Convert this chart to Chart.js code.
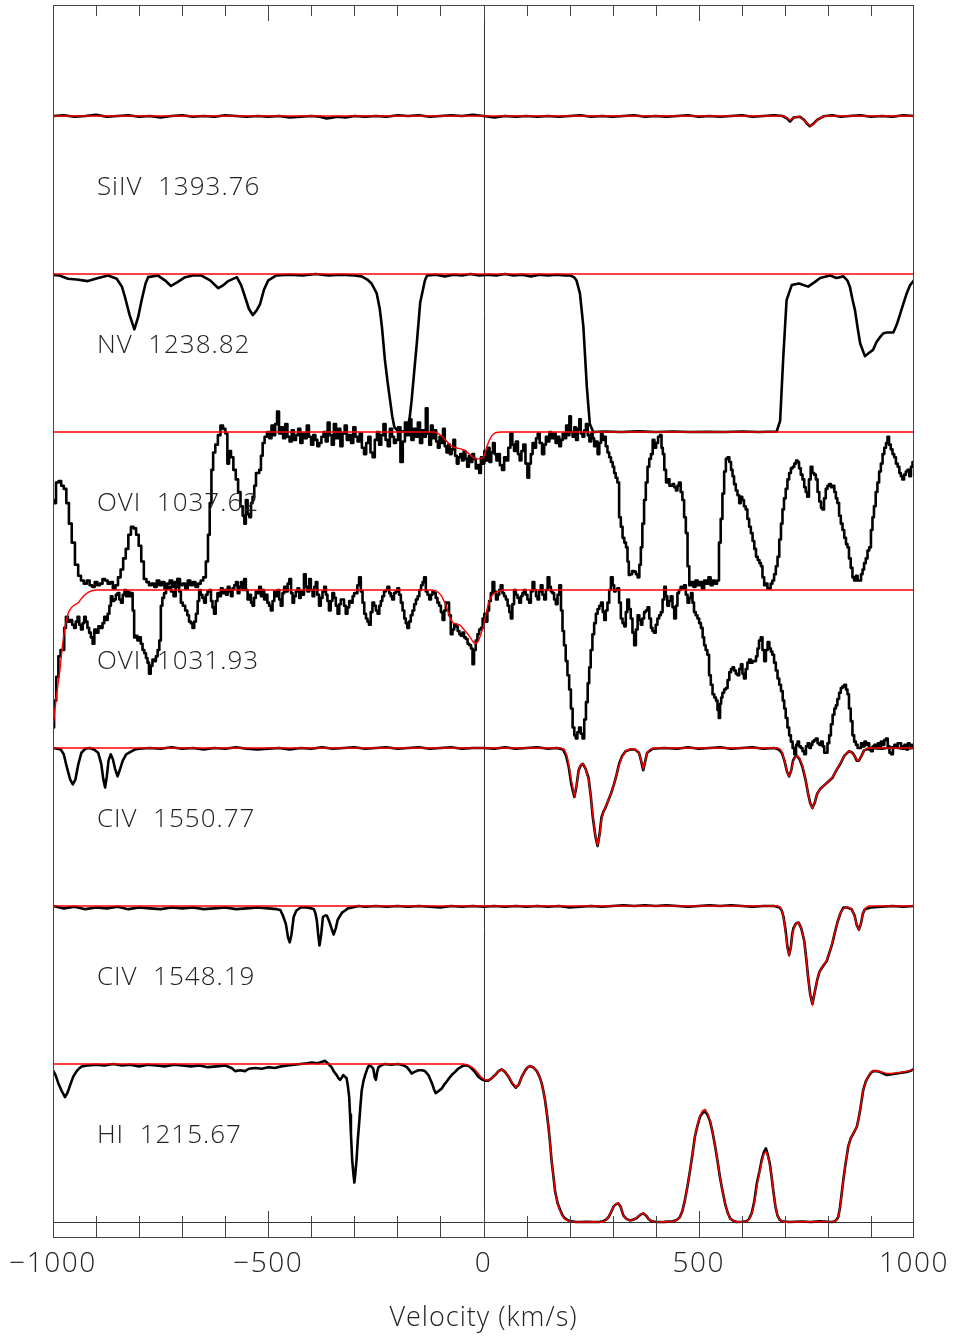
<!DOCTYPE html>
<html><head><meta charset="utf-8">
<script src="https://cdn.jsdelivr.net/npm/chart.js@4.4.1/dist/chart.umd.min.js"></script>
<style>html,body{margin:0;padding:0;background:#fff}canvas{display:block}</style>
</head><body>
<canvas id="c" width="953" height="1337"></canvas>
<script>
// ---- panel labels & stacking (bottom panel = offset 0) ----
const panelNames = ['HI  1215.67','CIV  1548.19','CIV  1550.77','OVI  1031.93','OVI  1037.62','NV  1238.82','SiIV  1393.76'];
const panelOffsets = [0,1,2,3,4,5,6];
const xTickValues = [-1000,-500,0,500,1000];
const xTickLabels = ['\u22121000','\u2212500','0','500','1000'];
const minorTickValues = [-900,-800,-700,-600,-400,-300,-200,-100,100,200,300,400,600,700,800,900];
const majorTickValues = [-500,0,500];

// ---- observed spectra: [velocity km/s, normalised flux] ----
const siivObs = [[-1000,1.0],[-975,1.005],[-950,0.995],[-925,1.0],[-900,1.008],[-875,0.995],[-850,1.0],[-825,1.005],[-800,0.995],[-775,1.0],[-750,0.99],[-725,1.0],[-700,1.005],[-675,0.995],[-650,1.0],[-625,0.995],[-600,1.005],[-575,1.0],[-550,0.995],[-525,1.0],[-500,0.995],[-475,1.0],[-450,0.99],[-425,0.995],[-400,1.0],[-380,0.995],[-365,0.985],[-355,0.988],[-340,0.995],[-320,0.99],[-300,1.0],[-275,0.995],[-250,1.0],[-225,0.995],[-200,1.005],[-175,1.0],[-150,1.005],[-125,0.995],[-100,1.0],[-75,1.005],[-50,1.0],[-25,1.008],[0,1.0],[25,0.99],[50,1.0],[75,0.995],[100,1.0],[125,0.995],[150,1.0],[175,0.995],[200,1.0],[225,1.005],[250,0.995],[275,1.0],[300,0.995],[325,1.0],[350,1.005],[375,0.995],[400,1.0],[425,0.995],[450,1.0],[475,1.005],[500,0.995],[525,1.0],[550,0.995],[575,1.0],[600,1.005],[625,0.995],[650,1.0],[675,1.005],[695,1.0],[705,0.985],[712,0.965],[720,0.99],[735,0.995],[745,0.975],[752,0.95],[758,0.935],[766,0.95],[775,0.975],[790,0.998],[810,1.005],[830,0.995],[850,1.0],[875,1.005],[900,0.995],[925,1.0],[950,0.995],[975,1.005],[1000,1.0]];
const siivFit = [[-1000,1],[698,1],[705,0.988],[712,0.972],[720,0.99],[732,0.997],[743,0.978],[751,0.955],[759,0.937],[767,0.95],[777,0.98],[790,0.998],[800,1],[1000,1]];

const nvObs = [[-1000,0.994],[-985,0.99],[-965,0.97],[-945,0.965],[-919,0.955],[-895,0.975],[-872,0.99],[-852,0.97],[-840,0.92],[-833,0.856],[-822,0.74],[-811,0.65],[-802,0.73],[-794,0.835],[-785,0.94],[-779,0.98],[-756,0.99],[-740,0.96],[-726,0.924],[-710,0.95],[-693,0.98],[-675,0.99],[-655,0.99],[-635,0.96],[-616,0.91],[-604,0.93],[-593,0.955],[-573,0.98],[-563,0.93],[-554,0.856],[-545,0.78],[-536,0.74],[-527,0.77],[-519,0.81],[-510,0.9],[-500,0.96],[-482,0.99],[-450,0.995],[-420,0.99],[-390,1.0],[-360,0.99],[-330,0.995],[-300,0.99],[-283,0.985],[-270,0.965],[-260,0.94],[-248,0.877],[-241,0.78],[-236,0.667],[-229,0.456],[-223,0.32],[-217,0.2],[-212,0.1],[-207,0.03],[-198,0.005],[-188,0.003],[-178,0.01],[-172,0.08],[-167,0.2],[-161,0.38],[-155,0.56],[-147,0.82],[-136,0.96],[-131,0.99],[-110,0.995],[-90,0.985],[-70,0.995],[-50,0.99],[-30,1.0],[-10,0.99],[10,0.995],[30,0.99],[50,1.0],[70,0.99],[90,0.995],[110,0.985],[130,0.995],[150,0.99],[170,0.995],[190,0.99],[201,0.99],[210,0.98],[216,0.96],[224,0.877],[232,0.667],[240,0.287],[247,0.05],[255,0.0],[280,0.003],[320,0.0],[360,0.004],[400,0.0],[440,0.003],[480,0.0],[520,0.002],[560,0.0],[600,0.003],[640,0.0],[681,0.003],[689,0.07],[696,0.456],[704,0.835],[716,0.93],[733,0.94],[754,0.92],[770,0.95],[782,0.975],[805,0.99],[820,0.975],[836,0.985],[845,0.96],[851,0.92],[857,0.84],[863,0.77],[869,0.66],[875,0.56],[886,0.48],[895,0.5],[905,0.52],[913,0.57],[921,0.6],[929,0.625],[937,0.63],[952,0.63],[960,0.68],[967,0.74],[975,0.81],[983,0.877],[991,0.93],[1000,0.96]];
const nvFit = [[-1000,1],[1000,1]];

const ovi1037Obs = [[-1000,0.57],[-996,0.55],[-990,0.68],[-984,0.69],[-978,0.66],[-972,0.64],[-966,0.55],[-960,0.42],[-953,0.3],[-945,0.16],[-938,0.09],[-932,0.06],[-925,0.04],[-918,0.06],[-912,0.03],[-906,0.02],[-900,0.05],[-894,0.03],[-888,0.04],[-882,0.07],[-876,0.06],[-870,0.04],[-864,0.05],[-858,0.01],[-852,0.03],[-846,0.08],[-840,0.13],[-834,0.2],[-828,0.26],[-822,0.35],[-816,0.4],[-810,0.39],[-804,0.35],[-798,0.28],[-792,0.18],[-786,0.07],[-780,0.05],[-774,0.03],[-768,0.04],[-762,0.02],[-756,0.06],[-750,0.03],[-744,0.05],[-738,0.01],[-732,0.04],[-726,0.06],[-720,0.02],[-714,0.05],[-708,0.07],[-702,0.03],[-696,0.04],[-690,0.01],[-684,0.06],[-678,0.03],[-672,0.05],[-666,0.02],[-660,0.04],[-654,0.06],[-648,0.08],[-642,0.18],[-638,0.35],[-634,0.55],[-630,0.76],[-626,0.87],[-620,0.92],[-614,0.98],[-608,1.04],[-602,1.02],[-597,0.99],[-593,0.8],[-589,0.88],[-584,0.84],[-578,0.76],[-573,0.7],[-567,0.62],[-562,0.53],[-557,0.47],[-554,0.42],[-550,0.57],[-546,0.48],[-542,0.46],[-538,0.55],[-535,0.59],[-530,0.66],[-527,0.74],[-523,0.74],[-519,0.76],[-515,0.85],[-511,0.93],[-506,0.97],[-500,1.0],[-495,0.96],[-490,1.04],[-486,0.98],[-482,1.05],[-477,1.13],[-473,0.99],[-468,1.03],[-463,0.96],[-458,1.05],[-453,0.97],[-448,0.94],[-443,1.01],[-438,0.95],[-433,0.98],[-428,1.02],[-423,0.93],[-418,0.99],[-413,0.96],[-408,1.04],[-403,0.97],[-398,0.92],[-393,0.98],[-388,0.95],[-384,0.91],[-379,0.93],[-374,0.97],[-369,1.0],[-364,0.94],[-360,1.06],[-355,0.98],[-350,0.92],[-345,1.05],[-340,0.96],[-335,1.02],[-330,0.91],[-325,0.99],[-320,1.04],[-315,0.95],[-310,0.98],[-305,0.93],[-300,1.03],[-295,0.97],[-290,0.94],[-285,0.99],[-280,0.9],[-275,0.86],[-270,0.93],[-265,0.97],[-260,0.87],[-255,0.84],[-250,0.95],[-245,1.0],[-240,0.92],[-235,0.98],[-230,1.05],[-225,0.95],[-220,0.91],[-215,1.02],[-210,0.97],[-206,0.93],[-201,0.95],[-196,1.03],[-190,0.81],[-185,0.94],[-180,1.06],[-175,0.98],[-170,1.08],[-165,0.95],[-160,1.02],[-155,0.97],[-150,1.06],[-145,0.93],[-140,1.01],[-136,0.97],[-132,1.15],[-128,0.99],[-124,0.92],[-120,1.04],[-116,0.96],[-112,1.01],[-108,0.94],[-104,0.9],[-100,0.97],[-96,0.93],[-92,1.02],[-88,0.91],[-84,0.87],[-80,0.92],[-76,0.86],[-72,0.89],[-68,0.95],[-64,0.85],[-60,0.8],[-56,0.84],[-52,0.86],[-48,0.82],[-44,0.88],[-40,0.83],[-36,0.78],[-32,0.85],[-28,0.81],[-24,0.86],[-20,0.83],[-16,0.77],[-12,0.79],[-8,0.74],[-4,0.84],[0,0.8],[4,0.88],[8,0.82],[12,0.9],[16,0.81],[20,0.87],[24,0.93],[28,0.86],[32,0.82],[36,0.86],[40,0.79],[46,0.76],[50,0.84],[55,0.82],[60,0.9],[65,0.99],[69,0.92],[73,0.88],[78,0.94],[82,0.86],[86,0.82],[90,0.88],[95,0.92],[100,0.8],[104,0.71],[108,0.8],[112,0.86],[116,0.93],[120,0.9],[124,0.96],[128,0.99],[133,0.93],[139,0.86],[143,0.92],[147,0.97],[151,0.94],[155,1.0],[160,0.96],[165,0.99],[170,0.93],[174,0.97],[178,0.91],[182,0.95],[186,0.99],[190,0.96],[194,1.04],[198,0.98],[201,1.1],[205,1.0],[209,0.97],[213,1.03],[217,0.95],[221,1.02],[224,1.08],[228,0.99],[232,0.97],[236,1.01],[240,1.05],[244,0.98],[248,0.94],[252,0.99],[255,0.96],[259,0.91],[263,0.94],[267,0.86],[271,0.93],[275,0.99],[278,0.95],[282,0.97],[286,0.91],[290,0.87],[294,0.84],[298,0.81],[302,0.78],[305,0.74],[309,0.71],[313,0.68],[317,0.46],[321,0.4],[325,0.33],[329,0.3],[333,0.27],[336,0.18],[339,0.095],[343,0.1],[347,0.12],[352,0.116],[356,0.1],[360,0.08],[364,0.16],[367,0.27],[371,0.42],[375,0.57],[379,0.68],[383,0.78],[387,0.83],[391,0.86],[395,0.95],[399,0.9],[403,0.93],[408,0.97],[412,0.98],[415,0.9],[418,0.86],[422,0.76],[426,0.68],[430,0.7],[434,0.66],[437,0.66],[441,0.67],[445,0.65],[449,0.63],[452,0.66],[456,0.68],[460,0.62],[464,0.57],[468,0.46],[472,0.36],[476,0.15],[480,0.03],[485,0.05],[490,0.02],[495,0.06],[500,0.03],[505,0.05],[510,0.01],[515,0.06],[520,0.04],[525,0.08],[530,0.03],[535,0.06],[540,0.04],[545,0.06],[549,0.3],[553,0.45],[557,0.61],[561,0.75],[565,0.83],[569,0.84],[573,0.81],[577,0.76],[580,0.72],[584,0.67],[588,0.63],[592,0.6],[596,0.55],[599,0.59],[603,0.57],[607,0.53],[611,0.51],[615,0.45],[619,0.4],[623,0.36],[627,0.31],[631,0.26],[635,0.21],[639,0.19],[643,0.17],[646,0.15],[650,0.08],[654,0.03],[658,0.04],[661,0.01],[665,0.01],[669,0.04],[673,0.06],[677,0.1],[681,0.15],[685,0.21],[689,0.32],[693,0.42],[696,0.51],[700,0.58],[704,0.64],[708,0.7],[712,0.74],[716,0.77],[720,0.78],[724,0.8],[728,0.82],[731,0.81],[735,0.77],[739,0.73],[743,0.7],[747,0.65],[750,0.62],[754,0.59],[758,0.7],[762,0.78],[766,0.74],[770,0.73],[774,0.7],[778,0.62],[782,0.56],[786,0.52],[789,0.51],[793,0.58],[797,0.64],[801,0.66],[805,0.67],[809,0.65],[813,0.66],[817,0.62],[820,0.58],[824,0.55],[828,0.47],[832,0.42],[836,0.38],[840,0.33],[844,0.29],[847,0.27],[851,0.2],[855,0.14],[859,0.08],[863,0.06],[867,0.09],[871,0.06],[875,0.06],[879,0.1],[882,0.13],[886,0.17],[890,0.2],[894,0.25],[898,0.27],[902,0.38],[905,0.46],[909,0.53],[913,0.62],[917,0.68],[921,0.75],[925,0.8],[929,0.86],[933,0.9],[937,0.93],[940,0.97],[944,0.92],[948,0.89],[952,0.86],[956,0.84],[960,0.8],[964,0.78],[968,0.74],[971,0.72],[975,0.7],[979,0.73],[983,0.75],[987,0.76],[991,0.72],[995,0.78],[998,0.81],[1000,0.8]];
const ovi1037Fit = [[-1000,1],[-115,1],[-105,0.99],[-95,0.97],[-85,0.94],[-75,0.91],[-65,0.9],[-55,0.895],[-45,0.885],[-35,0.865],[-25,0.84],[-18,0.83],[-10,0.83],[-4,0.835],[0,0.84],[4,0.87],[8,0.91],[14,0.95],[20,0.98],[28,0.995],[40,1],[1000,1]];

const ovi1031Obs = [[-1000,0.13],[-995,0.3],[-990,0.45],[-985,0.58],[-980,0.62],[-976,0.62],[-972,0.76],[-968,0.83],[-963,0.8],[-958,0.81],[-953,0.78],[-949,0.76],[-945,0.8],[-941,0.83],[-937,0.78],[-933,0.75],[-929,0.79],[-926,0.83],[-922,0.8],[-918,0.76],[-914,0.73],[-910,0.7],[-906,0.66],[-902,0.75],[-897,0.73],[-892,0.77],[-887,0.76],[-883,0.79],[-879,0.83],[-875,0.81],[-871,0.85],[-867,0.9],[-864,0.96],[-860,0.93],[-856,0.94],[-852,0.97],[-848,0.98],[-844,0.94],[-840,0.92],[-836,0.97],[-832,1.0],[-829,0.96],[-825,0.99],[-821,0.96],[-817,0.98],[-813,0.87],[-810,0.7],[-806,0.71],[-802,0.68],[-798,0.7],[-794,0.66],[-790,0.62],[-786,0.6],[-782,0.57],[-779,0.54],[-775,0.47],[-771,0.52],[-767,0.56],[-763,0.55],[-759,0.58],[-755,0.62],[-751,0.68],[-748,0.9],[-744,0.95],[-740,0.98],[-735,1.01],[-729,1.02],[-723,0.99],[-717,0.96],[-713,1.02],[-709,1.07],[-705,0.99],[-701,0.92],[-696,0.9],[-690,0.87],[-686,0.84],[-682,0.8],[-678,0.79],[-674,0.76],[-670,0.8],[-666,0.85],[-662,0.93],[-659,1.0],[-655,0.97],[-651,0.95],[-647,0.92],[-643,0.97],[-639,0.99],[-635,1.0],[-631,0.93],[-628,0.89],[-624,0.85],[-620,0.93],[-616,0.98],[-612,0.96],[-608,1.01],[-604,0.98],[-600,1.0],[-596,0.97],[-592,1.02],[-588,0.99],[-585,0.96],[-581,1.01],[-577,1.03],[-573,1.05],[-569,0.98],[-565,1.02],[-562,1.05],[-558,1.0],[-554,1.07],[-550,1.0],[-546,0.94],[-542,0.97],[-538,0.92],[-535,0.9],[-531,0.95],[-527,0.99],[-523,0.98],[-519,1.02],[-515,0.96],[-511,1.0],[-508,0.94],[-504,0.97],[-500,0.92],[-496,0.9],[-492,0.87],[-488,0.93],[-484,0.99],[-480,0.96],[-476,1.0],[-473,0.94],[-469,0.9],[-465,0.98],[-461,1.02],[-457,0.99],[-453,1.04],[-449,1.07],[-445,0.98],[-442,0.92],[-438,0.96],[-434,0.99],[-430,1.01],[-426,0.95],[-423,0.99],[-419,0.97],[-415,1.1],[-411,1.02],[-407,0.99],[-403,1.07],[-399,1.0],[-395,0.96],[-391,1.02],[-388,1.05],[-384,0.97],[-380,0.9],[-376,0.95],[-372,0.99],[-368,1.02],[-364,0.97],[-361,0.93],[-357,0.87],[-353,0.93],[-349,0.98],[-345,0.95],[-341,0.9],[-337,0.85],[-333,0.91],[-330,0.94],[-326,0.94],[-322,0.9],[-318,0.85],[-314,0.89],[-310,0.93],[-306,0.92],[-302,0.96],[-299,0.98],[-295,0.98],[-291,1.03],[-287,1.08],[-283,0.99],[-279,0.92],[-275,0.85],[-271,0.82],[-268,0.8],[-264,0.78],[-260,0.86],[-256,0.92],[-252,0.9],[-248,0.87],[-244,0.85],[-240,0.9],[-237,0.93],[-233,0.96],[-229,0.99],[-225,1.0],[-221,1.02],[-217,0.98],[-214,0.96],[-210,0.94],[-206,0.98],[-202,0.99],[-198,1.01],[-194,0.97],[-190,0.92],[-186,0.87],[-182,0.82],[-179,0.79],[-175,0.76],[-171,0.8],[-167,0.84],[-163,0.87],[-159,0.91],[-155,0.94],[-151,0.96],[-147,1.0],[-143,1.03],[-140,1.05],[-136,1.08],[-132,0.99],[-128,0.97],[-124,0.94],[-120,0.97],[-117,0.99],[-113,0.98],[-109,0.95],[-105,0.92],[-101,0.9],[-97,0.86],[-93,0.81],[-89,0.87],[-86,0.92],[-82,0.92],[-78,0.84],[-74,0.72],[-70,0.75],[-66,0.78],[-62,0.77],[-58,0.74],[-54,0.72],[-51,0.71],[-47,0.73],[-43,0.7],[-39,0.69],[-35,0.66],[-31,0.65],[-27,0.63],[-24,0.53],[-20,0.62],[-16,0.68],[-12,0.72],[-8,0.75],[-4,0.76],[0,0.82],[4,0.85],[7,0.8],[11,0.87],[15,0.93],[19,0.98],[23,1.05],[27,0.99],[31,0.94],[35,0.97],[38,1.0],[42,1.03],[46,0.98],[50,0.96],[54,0.94],[58,0.9],[62,0.86],[65,0.82],[69,0.91],[73,1.0],[77,0.97],[81,0.95],[85,0.92],[89,0.96],[92,0.98],[96,1.0],[100,0.97],[104,0.94],[108,0.92],[112,0.99],[116,1.05],[120,1.0],[124,0.96],[127,0.94],[131,0.99],[135,1.03],[139,0.97],[143,0.94],[147,1.0],[151,1.08],[155,1.02],[158,0.99],[162,0.98],[166,0.94],[170,0.91],[174,0.97],[178,1.03],[182,0.87],[185,0.74],[189,0.65],[193,0.55],[197,0.46],[201,0.37],[205,0.25],[209,0.13],[213,0.08],[216,0.06],[220,0.1],[224,0.13],[228,0.09],[232,0.06],[236,0.18],[240,0.29],[244,0.41],[247,0.51],[251,0.62],[255,0.72],[259,0.79],[263,0.85],[267,0.88],[271,0.9],[275,0.92],[279,0.86],[282,0.81],[286,0.87],[290,0.92],[294,1.0],[298,1.08],[302,1.03],[305,0.99],[309,1.0],[313,1.01],[317,0.92],[321,0.82],[325,0.79],[329,0.77],[332,0.86],[336,0.94],[340,0.88],[344,0.82],[348,0.73],[352,0.65],[356,0.75],[360,0.84],[364,0.81],[367,0.78],[371,0.82],[375,0.86],[379,0.87],[383,0.89],[387,0.82],[391,0.76],[394,0.74],[398,0.73],[402,0.78],[406,0.82],[410,0.84],[414,0.86],[418,0.94],[422,1.02],[425,0.96],[429,0.9],[433,0.93],[437,0.96],[441,0.89],[445,0.82],[449,0.9],[452,0.98],[456,1.0],[460,1.02],[464,1.01],[468,1.03],[472,0.97],[476,0.92],[480,0.95],[484,0.98],[487,0.92],[491,0.86],[495,0.84],[499,0.82],[503,0.79],[507,0.76],[511,0.7],[514,0.65],[518,0.62],[522,0.59],[526,0.46],[530,0.4],[534,0.34],[538,0.32],[542,0.3],[545,0.24],[548,0.19],[551,0.28],[553,0.32],[557,0.35],[561,0.37],[565,0.38],[569,0.43],[573,0.48],[577,0.5],[580,0.51],[584,0.49],[588,0.47],[592,0.46],[596,0.5],[600,0.53],[603,0.47],[607,0.44],[611,0.5],[615,0.54],[619,0.56],[623,0.54],[627,0.55],[631,0.55],[635,0.58],[638,0.63],[642,0.68],[646,0.7],[650,0.62],[654,0.55],[658,0.62],[662,0.67],[666,0.63],[669,0.61],[673,0.59],[677,0.54],[681,0.49],[685,0.44],[689,0.4],[693,0.36],[697,0.3],[700,0.25],[704,0.19],[708,0.13],[712,0.08],[716,0.04],[720,0.0],[724,-0.04],[728,0.02],[731,0.04],[735,0.01],[739,0.0],[743,-0.02],[747,-0.04],[751,0.01],[755,0.03],[759,0.0],[762,0.02],[766,0.04],[770,0.05],[774,0.06],[778,0.03],[782,0.02],[786,0.04],[790,0.01],[793,-0.03],[797,-0.03],[801,0.03],[805,0.08],[809,0.15],[813,0.21],[817,0.25],[820,0.27],[824,0.31],[828,0.35],[832,0.38],[836,0.39],[840,0.4],[844,0.37],[847,0.34],[851,0.25],[855,0.17],[859,0.08],[863,0.04],[867,0.02],[871,0.0],[875,0.0],[879,0.03],[883,0.01],[887,0.04],[890,0.02],[894,0.03],[898,-0.01],[902,-0.02],[906,0.01],[910,0.02],[914,0.0],[918,0.03],[921,0.01],[925,0.04],[929,0.02],[933,0.05],[937,0.06],[941,0.01],[945,-0.03],[949,-0.04],[953,0.0],[956,0.02],[960,0.01],[964,0.03],[968,0.03],[972,0.0],[976,0.01],[980,0.02],[984,-0.01],[988,0.03],[991,0.02],[995,0.01],[1000,0.02]];
const ovi1031Fit = [[-1000,0.135],[-992,0.33],[-984,0.49],[-978,0.65],[-972,0.77],[-964,0.86],[-957,0.89],[-950,0.905],[-941,0.92],[-933,0.95],[-926,0.97],[-918,0.985],[-910,0.995],[-900,1],[-120,1],[-110,0.995],[-103,0.98],[-97,0.96],[-90,0.92],[-82,0.86],[-76,0.81],[-70,0.79],[-62,0.785],[-55,0.78],[-47,0.755],[-39,0.73],[-31,0.7],[-25,0.675],[-20,0.66],[-15,0.665],[-10,0.69],[-5,0.73],[0,0.77],[5,0.84],[10,0.9],[16,0.95],[23,0.975],[32,0.99],[45,1],[1000,1]];

const civ1550Obs = [[-1000,1.0],[-990,0.995],[-982,0.99],[-975,0.96],[-968,0.88],[-960,0.8],[-954,0.77],[-948,0.8],[-941,0.9],[-934,0.97],[-925,0.995],[-915,1.0],[-905,0.99],[-895,0.97],[-888,0.9],[-883,0.8],[-879,0.75],[-875,0.82],[-871,0.92],[-866,0.96],[-861,0.93],[-856,0.87],[-850,0.82],[-845,0.86],[-838,0.92],[-830,0.96],[-820,0.975],[-810,0.99],[-800,0.995],[-775,1.0],[-750,0.995],[-725,1.005],[-700,0.995],[-675,1.0],[-650,0.99],[-625,1.0],[-600,0.995],[-575,1.005],[-550,0.995],[-525,0.99],[-500,0.995],[-475,1.0],[-450,0.99],[-425,1.0],[-400,0.995],[-375,1.005],[-350,0.995],[-325,1.0],[-300,1.005],[-275,0.995],[-250,1.0],[-225,1.005],[-200,0.995],[-175,1.0],[-150,1.005],[-125,0.995],[-100,1.0],[-75,1.005],[-50,0.995],[-25,1.0],[0,1.0],[25,0.995],[50,1.005],[75,0.995],[100,1.0],[125,1.005],[150,0.995],[170,1.0],[185,0.99],[192,0.95],[198,0.88],[204,0.77],[211,0.69],[216,0.76],[221,0.86],[226,0.89],[231,0.9],[237,0.87],[244,0.81],[249,0.7],[254,0.56],[260,0.44],[265,0.38],[270,0.46],[274,0.56],[279,0.6],[283,0.62],[290,0.67],[296,0.71],[303,0.77],[309,0.83],[315,0.9],[322,0.95],[330,0.98],[341,0.99],[352,0.99],[361,0.97],[366,0.92],[371,0.86],[376,0.92],[380,0.97],[393,0.995],[420,1.0],[450,0.995],[475,1.005],[500,0.995],[525,1.0],[550,1.005],[575,0.995],[600,1.0],[625,1.005],[650,0.995],[675,1.0],[686,0.99],[693,0.97],[699,0.92],[705,0.85],[710,0.82],[715,0.86],[719,0.92],[724,0.945],[728,0.95],[734,0.93],[741,0.88],[748,0.8],[754,0.71],[759,0.65],[764,0.62],[769,0.65],[775,0.71],[782,0.74],[790,0.76],[800,0.785],[810,0.81],[820,0.86],[829,0.9],[838,0.95],[849,0.98],[857,0.97],[862,0.95],[867,0.92],[872,0.92],[878,0.95],[884,0.985],[900,1.0],[925,0.995],[950,1.005],[975,0.995],[1000,1.0]];
const civ1550Fit = [[-1000,1],[180,1],[188,0.99],[194,0.95],[199,0.88],[205,0.78],[211,0.7],[216,0.76],[221,0.86],[226,0.895],[231,0.9],[237,0.87],[244,0.8],[249,0.7],[254,0.57],[260,0.44],[265,0.385],[270,0.45],[274,0.55],[279,0.6],[283,0.625],[290,0.67],[296,0.71],[303,0.77],[309,0.83],[315,0.895],[322,0.945],[330,0.98],[341,0.995],[355,0.99],[362,0.96],[367,0.91],[371,0.87],[376,0.92],[380,0.97],[386,0.99],[395,1],[684,1],[690,0.99],[695,0.96],[700,0.91],[705,0.85],[710,0.82],[715,0.86],[720,0.92],[725,0.945],[729,0.95],[735,0.93],[742,0.88],[748,0.8],[754,0.71],[759,0.65],[764,0.62],[769,0.65],[775,0.71],[782,0.74],[790,0.76],[800,0.785],[810,0.815],[820,0.86],[829,0.905],[838,0.95],[848,0.98],[856,0.97],[862,0.95],[867,0.925],[872,0.92],[878,0.95],[884,0.985],[892,1],[1000,1]];

const civ1548Obs = [[-1000,1.0],[-975,0.985],[-950,0.995],[-925,0.98],[-900,0.99],[-875,0.985],[-850,0.995],[-825,0.98],[-800,0.99],[-775,0.985],[-750,0.98],[-725,0.99],[-700,0.985],[-675,0.99],[-650,0.98],[-625,0.985],[-600,0.99],[-575,0.98],[-550,0.985],[-525,0.99],[-500,0.985],[-480,0.98],[-472,0.975],[-466,0.94],[-459,0.885],[-454,0.8],[-450,0.77],[-446,0.82],[-441,0.93],[-435,0.97],[-425,0.99],[-410,0.99],[-400,0.985],[-394,0.98],[-390,0.95],[-387,0.905],[-384,0.82],[-381,0.75],[-377,0.82],[-373,0.93],[-368,0.94],[-364,0.94],[-358,0.9],[-352,0.85],[-348,0.82],[-343,0.86],[-339,0.91],[-335,0.93],[-328,0.96],[-322,0.97],[-315,0.985],[-305,0.99],[-290,1.0],[-275,0.995],[-250,1.0],[-225,0.995],[-200,1.0],[-175,0.995],[-150,1.0],[-125,0.995],[-100,0.99],[-75,1.0],[-50,0.995],[-25,1.0],[0,0.995],[25,1.0],[50,0.995],[75,1.0],[100,0.995],[125,1.0],[150,0.995],[175,1.0],[200,0.99],[225,0.995],[250,1.0],[275,0.995],[300,1.0],[325,1.005],[350,1.0],[375,1.005],[400,1.0],[425,1.005],[450,1.0],[475,0.995],[500,1.0],[525,1.005],[550,1.0],[575,1.005],[600,1.0],[625,0.995],[650,1.0],[675,1.0],[688,0.99],[693,0.97],[697,0.93],[702,0.84],[706,0.74],[710,0.69],[714,0.74],[717,0.82],[720,0.86],[726,0.89],[732,0.895],[738,0.86],[745,0.78],[750,0.66],[754,0.55],[759,0.44],[764,0.38],[769,0.45],[775,0.53],[780,0.58],[784,0.6],[790,0.625],[797,0.65],[803,0.7],[810,0.76],[816,0.83],[823,0.905],[830,0.96],[836,0.99],[845,0.99],[855,0.98],[862,0.94],[867,0.88],[872,0.85],[877,0.89],[881,0.95],[886,0.98],[900,0.99],[925,0.995],[950,1.0],[975,0.995],[1000,1.0]];
const civ1548Fit = [[-1000,1],[684,1],[690,0.99],[694,0.96],[698,0.91],[702,0.82],[706,0.73],[710,0.69],[714,0.74],[718,0.83],[722,0.87],[727,0.89],[732,0.895],[738,0.86],[745,0.78],[750,0.66],[754,0.55],[759,0.44],[764,0.38],[769,0.45],[775,0.53],[780,0.58],[785,0.605],[791,0.63],[797,0.655],[803,0.7],[810,0.765],[816,0.83],[823,0.905],[830,0.96],[836,0.985],[843,0.99],[850,0.99],[856,0.975],[862,0.935],[867,0.88],[872,0.85],[877,0.89],[881,0.95],[886,0.985],[895,1],[1000,1]];

const hiObs = [[-1000,0.96],[-994,0.93],[-988,0.88],[-980,0.83],[-972,0.79],[-966,0.82],[-961,0.86],[-953,0.92],[-945,0.955],[-938,0.975],[-933,0.985],[-920,0.99],[-900,0.995],[-880,0.99],[-860,1.0],[-840,0.99],[-820,0.995],[-800,0.985],[-780,0.995],[-760,0.99],[-740,0.985],[-720,0.995],[-700,0.99],[-680,0.985],[-660,0.99],[-640,0.98],[-620,0.985],[-600,0.99],[-585,0.975],[-577,0.955],[-565,0.96],[-554,0.955],[-545,0.97],[-530,0.975],[-515,0.97],[-500,0.98],[-485,0.975],[-470,0.985],[-455,0.99],[-440,0.995],[-425,1.0],[-410,1.005],[-399,1.01],[-385,1.005],[-368,1.02],[-360,1.0],[-353,0.98],[-347,0.95],[-341,0.93],[-337,0.91],[-333,0.9],[-329,0.915],[-326,0.93],[-322,0.92],[-318,0.91],[-315,0.86],[-312,0.79],[-310,0.68],[-308,0.56],[-305,0.39],[-302,0.3],[-300,0.25],[-298,0.3],[-295,0.39],[-292,0.52],[-289,0.62],[-286,0.73],[-283,0.83],[-279,0.89],[-275,0.93],[-270,0.97],[-266,0.99],[-261,0.985],[-256,0.97],[-253,0.92],[-250,0.9],[-247,0.95],[-244,0.98],[-235,0.995],[-229,1.0],[-215,0.995],[-198,1.0],[-185,0.99],[-178,0.98],[-172,0.96],[-167,0.94],[-160,0.95],[-151,0.96],[-143,0.96],[-136,0.955],[-128,0.93],[-120,0.88],[-115,0.84],[-111,0.815],[-104,0.83],[-97,0.845],[-91,0.87],[-85,0.89],[-80,0.91],[-74,0.93],[-66,0.95],[-59,0.97],[-50,0.985],[-43,0.99],[-39,0.99],[-33,0.985],[-27,0.97],[-20,0.95],[-12,0.92],[-5,0.905],[3,0.895],[11,0.895],[19,0.91],[27,0.93],[35,0.955],[42,0.966],[50,0.95],[58,0.92],[66,0.88],[75,0.85],[82,0.87],[89,0.92],[97,0.96],[103,0.98],[108,0.987],[115,0.98],[124,0.955],[130,0.92],[135,0.88],[139,0.83],[143,0.77],[147,0.69],[151,0.6],[155,0.49],[158,0.39],[162,0.3],[166,0.2],[172,0.12],[178,0.076],[184,0.04],[189,0.023],[197,0.01],[205,0.004],[215,0.0],[224,0.0],[240,0.002],[255,0.0],[270,0.001],[278,0.005],[285,0.015],[290,0.03],[296,0.06],[302,0.097],[308,0.113],[313,0.118],[318,0.1],[322,0.065],[325,0.04],[332,0.02],[340,0.01],[348,0.015],[356,0.025],[364,0.045],[371,0.055],[378,0.04],[383,0.02],[387,0.01],[395,0.003],[402,0.0],[420,0.001],[441,0.005],[450,0.015],[456,0.03],[462,0.07],[468,0.14],[474,0.23],[480,0.33],[486,0.44],[491,0.54],[497,0.61],[503,0.667],[509,0.69],[515,0.7],[520,0.68],[526,0.64],[532,0.57],[538,0.48],[544,0.38],[549,0.287],[555,0.2],[561,0.118],[567,0.06],[573,0.023],[580,0.008],[588,0.0],[600,0.002],[611,0.005],[617,0.02],[623,0.055],[629,0.13],[635,0.245],[641,0.32],[646,0.39],[651,0.44],[656,0.466],[660,0.43],[665,0.37],[669,0.29],[673,0.2],[678,0.1],[683,0.04],[688,0.015],[693,0.005],[710,0.0],[740,0.003],[760,0.0],[780,0.004],[800,0.002],[810,0.0],[816,0.005],[820,0.015],[824,0.03],[828,0.09],[832,0.18],[836,0.27],[840,0.35],[844,0.42],[847,0.475],[853,0.53],[859,0.56],[863,0.58],[867,0.6],[871,0.65],[875,0.71],[879,0.78],[882,0.835],[888,0.89],[894,0.92],[900,0.945],[905,0.955],[913,0.955],[921,0.95],[929,0.94],[937,0.93],[948,0.935],[960,0.94],[971,0.945],[983,0.95],[991,0.955],[998,0.966],[1000,0.965]];
const hiFit = [[-1000,1],[-47,1],[-38,0.995],[-27,0.98],[-20,0.965],[-12,0.94],[-5,0.915],[3,0.9],[11,0.897],[19,0.91],[27,0.93],[35,0.955],[42,0.966],[50,0.95],[58,0.92],[66,0.885],[75,0.853],[82,0.87],[89,0.92],[97,0.96],[103,0.98],[108,0.988],[115,0.98],[124,0.955],[130,0.92],[135,0.88],[139,0.83],[143,0.77],[147,0.69],[151,0.6],[155,0.49],[158,0.39],[162,0.3],[166,0.2],[172,0.115],[178,0.07],[184,0.035],[189,0.018],[197,0.006],[205,0.002],[215,0.0],[278,0.0],[285,0.012],[290,0.03],[296,0.06],[302,0.097],[308,0.115],[313,0.12],[318,0.1],[322,0.065],[325,0.04],[332,0.018],[340,0.01],[348,0.015],[356,0.027],[364,0.047],[371,0.057],[378,0.04],[383,0.02],[387,0.01],[395,0.002],[402,0.0],[441,0.003],[450,0.013],[456,0.03],[462,0.07],[468,0.14],[474,0.23],[480,0.33],[486,0.44],[491,0.54],[497,0.615],[503,0.675],[509,0.705],[515,0.713],[520,0.69],[526,0.645],[532,0.57],[538,0.48],[544,0.38],[549,0.287],[555,0.2],[561,0.118],[567,0.06],[573,0.023],[580,0.007],[588,0.0],[611,0.003],[617,0.018],[623,0.05],[629,0.12],[635,0.23],[641,0.31],[646,0.38],[651,0.43],[656,0.446],[660,0.42],[665,0.36],[669,0.29],[673,0.2],[678,0.1],[683,0.04],[688,0.015],[693,0.004],[700,0.0],[816,0.003],[820,0.013],[824,0.03],[828,0.09],[832,0.18],[836,0.27],[840,0.35],[844,0.42],[847,0.475],[853,0.53],[859,0.56],[863,0.58],[867,0.6],[871,0.65],[875,0.71],[879,0.78],[882,0.835],[888,0.89],[894,0.925],[900,0.948],[905,0.958],[913,0.957],[921,0.952],[929,0.945],[937,0.94],[948,0.94],[960,0.944],[971,0.948],[983,0.953],[991,0.958],[1000,0.966]];

// ---- build datasets ----
const obsSeries = [hiObs, civ1548Obs, civ1550Obs, ovi1031Obs, ovi1037Obs, nvObs, siivObs];
const fitSeries = [hiFit, civ1548Fit, civ1550Fit, ovi1031Fit, ovi1037Fit, nvFit, siivFit];
const noisyPanel = [false,false,false,true,true,false,false];

const datasets = [];
fitSeries.forEach((s, i) => {
  datasets.push({data: s.map(p => ({x: p[0], y: panelOffsets[i] + p[1]})),
    borderColor: '#ff0000', borderWidth: 1.4, pointRadius: 0, tension: 0, order: 0, fill: false});
});
obsSeries.forEach((s, i) => {
  datasets.push({data: s.map(p => ({x: p[0], y: panelOffsets[i] + p[1]})),
    borderColor: '#000000', borderWidth: 2.6, pointRadius: 0, tension: 0, order: 1, fill: false,
    stepped: noisyPanel[i] ? 'middle' : false, borderJoinStyle: 'round'});
});

const decor = {
  id: 'decor',
  beforeDatasetsDraw(chart) {
    const {ctx, chartArea: a, scales: {x, y}} = chart;
    ctx.save();
    ctx.strokeStyle = '#333'; ctx.lineWidth = 1;
    const x0 = Math.round(x.getPixelForValue(0)) + 0.5;
    ctx.beginPath(); ctx.moveTo(x0, a.top); ctx.lineTo(x0, a.bottom); ctx.stroke();
    const y0 = Math.round(y.getPixelForValue(0)) + 0.5;
    ctx.beginPath(); ctx.moveTo(a.left, y0); ctx.lineTo(a.right, y0); ctx.stroke();
    ctx.restore();
  },
  afterDatasetsDraw(chart) {
    const {ctx, chartArea: a, scales: {x, y}} = chart;
    ctx.save();
    ctx.strokeStyle = '#444'; ctx.lineWidth = 1;
    ctx.strokeRect(a.left + 0.5, a.top + 0.5, a.right - a.left - 1, a.bottom - a.top - 1);
    const drawTick = (v, lb, lt) => {
      const px = Math.round(x.getPixelForValue(v)) + 0.5;
      ctx.beginPath(); ctx.moveTo(px, a.bottom); ctx.lineTo(px, a.bottom - lb); ctx.stroke();
      ctx.beginPath(); ctx.moveTo(px, a.top); ctx.lineTo(px, a.top + lt); ctx.stroke();
    };
    minorTickValues.forEach(v => drawTick(v, 22, 11));
    majorTickValues.forEach(v => drawTick(v, 27, 16));
    // panel labels
    ctx.fillStyle = '#222';
    ctx.font = '300 26px "Open Sans", "DejaVu Sans", sans-serif';
    try { ctx.letterSpacing = '1px'; } catch (e) {}
    ctx.textAlign = 'left'; ctx.textBaseline = 'middle';
    panelNames.forEach((name, i) => {
      ctx.fillText(name, x.getPixelForValue(-898), y.getPixelForValue(panelOffsets[i] + 1 - 0.45));
    });
    // tick labels
    ctx.font = '300 28px "Open Sans", "DejaVu Sans", sans-serif';
    try { ctx.letterSpacing = '1.5px'; } catch (e) {}
    ctx.textAlign = 'center';
    xTickValues.forEach((v, i) => {
      ctx.fillText(xTickLabels[i], x.getPixelForValue(v), a.bottom + 26);
    });
    ctx.font = '300 27px "Open Sans", "DejaVu Sans", sans-serif';
    try { ctx.letterSpacing = '1px'; } catch (e) {}
    ctx.fillText('Velocity (km/s)', (a.left + a.right) / 2, a.bottom + 80);
    ctx.restore();
  }
};

new Chart(document.getElementById('c'), {
  type: 'line',
  data: {datasets},
  options: {
    responsive: false, animation: false, devicePixelRatio: 1,
    layout: {padding: {left: 53, right: 39, top: 5, bottom: 99}},
    scales: {
      x: {type: 'linear', min: -1000, max: 1000, display: false},
      y: {type: 'linear', min: -0.1013, max: 7.7025, display: false}
    },
    plugins: {legend: {display: false}, tooltip: {enabled: false}}
  },
  plugins: [decor]
});
</script>
</body></html>
